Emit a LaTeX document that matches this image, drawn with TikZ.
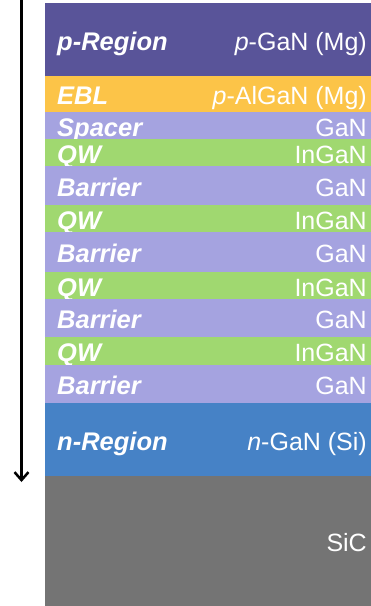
\documentclass[tikz,border=0pt]{standalone}
\usepackage{fontspec}
\setmainfont{Liberation Sans}
\usetikzlibrary{arrows.meta}

\definecolor{pregion}{RGB}{89,84,153}
\definecolor{ebl}{RGB}{252,196,72}
\definecolor{barrier}{RGB}{165,163,224}
\definecolor{qw}{RGB}{160,216,112}
\definecolor{nregion}{RGB}{70,130,198}
\definecolor{sic}{RGB}{116,116,116}

\tikzset{
  layertext/.style={text=white, inner sep=0pt, text height=17.5pt, text depth=0pt,
    font=\fontsize{25}{25}\selectfont},
  layername/.style={layertext, anchor=west, font=\fontsize{25.5}{25.5}\selectfont\bfseries\itshape},
  material/.style={layertext, anchor=east},
  growth/.style={line width=2.5pt, -{Straight Barb[length=8pt,width=14pt,line width=2.5pt]}}
}

\begin{document}
\begin{tikzpicture}[x=1pt,y=-1pt]
\useasboundingbox (0,0) rectangle (371,606);

% epitaxial stack: top edge / bottom edge / colour / layer name / material
\foreach \top/\bot/\col/\lname/\mat [count=\i] in {
  3/76/pregion/{p-Region}/{{\itshape p}-GaN (Mg)},
  76/112/ebl/{EBL}/{{\itshape p}-AlGaN (Mg)},
  112/139/barrier/{Spacer}/{GaN},
  139/166/qw/{QW}/{InGaN},
  166/205/barrier/{Barrier}/{GaN},
  205/232/qw/{QW}/{InGaN},
  232/272/barrier/{Barrier}/{GaN},
  272/299/qw/{QW}/{InGaN},
  299/337/barrier/{Barrier}/{GaN},
  337/365/qw/{QW}/{InGaN},
  365/403/barrier/{Barrier}/{GaN},
  403/476/nregion/{n-Region}/{{\itshape n}-GaN (Si)},
  476/606/sic/{}/{SiC}}
{
  \fill[\col] (45,\top) rectangle (371,\bot);
  \pgfmathsetmacro{\mid}{(\top+\bot)/2+2}
  \node[layername] (name\i) at (57,\mid) {\lname};
  \node[material] (mat\i) at (367,\mid) {\mat};
}

% growth direction
\coordinate (arrowstart) at (21.5,0);
\coordinate (arrowend) at (21.5,482);
\draw[growth] (arrowstart) -- (arrowend);
\end{tikzpicture}
\end{document}
